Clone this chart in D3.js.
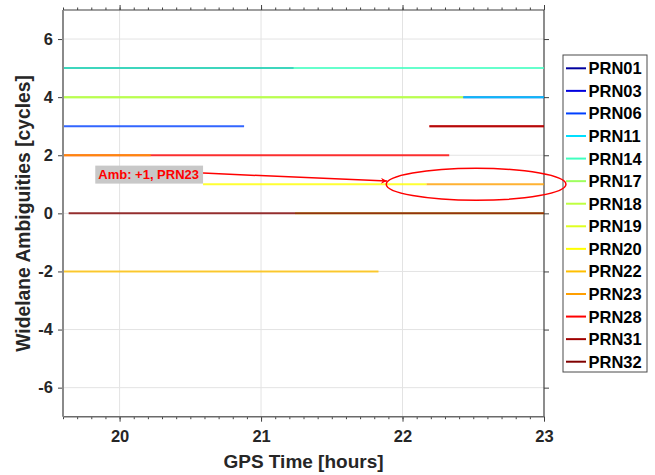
<!DOCTYPE html>
<html><head><meta charset="utf-8">
<script src="https://cdn.jsdelivr.net/npm/d3@7"></script>
<style>
html,body{margin:0;padding:0;background:#fff;}
svg{display:block;font-family:"Liberation Sans",Arial,Helvetica,sans-serif;}
</style></head>
<body><svg id="chart" width="655" height="475"></svg>
<script>
// ---- data ----
const legendPrns = ["PRN01","PRN03","PRN06","PRN11","PRN14","PRN17","PRN18","PRN19","PRN20","PRN22","PRN23","PRN28","PRN31","PRN32"];
const prnColors  = ["#00009f","#0000df","#0040ff","#00dfff","#40ffbf","#9fff60","#bfff40","#dfff20","#ffff00","#ffbf00","#ff9f00","#ff0000","#9f0000","#800000"];
// segments (drawing order)
const segPrn   = ["PRN01","PRN14","PRN17","PRN18","PRN03","PRN11","PRN06","PRN28","PRN31","PRN28","PRN23","PRN20","PRN23","PRN19","PRN32","PRN22"];
const segStart = [19.6, 19.6, 19.6, 19.6, 22.43, 22.43, 19.6, 22.19, 22.19, 19.6, 19.6, 20.59, 22.17, 21.24, 19.64, 19.6];
const segEnd   = [21.23, 23, 22.43, 22.43, 23, 23, 20.88, 23, 23, 22.33, 20.22, 22.17, 23, 23, 23, 21.83];
const segValue = [5, 5, 4, 4, 4, 4, 3, 3, 3, 2, 2, 1, 1, 0, 0, -2];
const xTicks = [20, 21, 22, 23];
const yTicks = [-6, -4, -2, 0, 2, 4, 6];
const xDomain = [19.6, 23];
const yDomain = [-7, 7];
const annText = "Amb: +1, PRN23";
const annArrowFrom = [20.59, 1.385];
const annArrowTo = [21.89, 1.11];
const ellipseCenter = [22.52, 1.0];
const ellipseRadius = [0.635, 0.55];

// ---- layout ----
const svg = d3.select("#chart");
const L = 63, R = 544, T = 10, B = 416.7;
const x = d3.scaleLinear().domain(xDomain).range([L, R]);
const y = d3.scaleLinear().domain(yDomain).range([B, T]);
const colorOf = d3.scaleOrdinal().domain(legendPrns).range(prnColors);

// grid
const g = svg.append("g");
g.selectAll(".gx").data(xTicks.filter(d => d < 23)).enter().append("line")
  .attr("x1", d => x(d)).attr("x2", d => x(d)).attr("y1", T).attr("y2", B)
  .attr("stroke", "#e3e3e3").attr("stroke-width", 1);
g.selectAll(".gy").data(yTicks).enter().append("line")
  .attr("y1", d => y(d)).attr("y2", d => y(d)).attr("x1", L).attr("x2", R)
  .attr("stroke", "#e3e3e3").attr("stroke-width", 1);

// axes
const minor = d3.range(196, 231).map(d => d / 10);
const fmt = d => String(d);
const axB = d3.axisBottom(x).tickValues(minor).tickSize(2.5).tickFormat("");
const axT = d3.axisTop(x).tickValues(minor).tickSize(2.5).tickFormat("");
const axBM = d3.axisBottom(x).tickValues(xTicks).tickSize(5).tickPadding(9).tickFormat(fmt);
const axTM = d3.axisTop(x).tickValues(xTicks).tickSize(5).tickFormat("");
const axL = d3.axisLeft(y).tickValues(yTicks).tickSize(5).tickPadding(5).tickFormat(fmt);
const axR = d3.axisRight(y).tickValues(yTicks).tickSize(5).tickFormat("");

function styleAx(sel, col) {
  sel.select(".domain").remove();
  sel.selectAll(".tick line").attr("stroke", col).attr("stroke-width", 1);
  sel.selectAll(".tick text").attr("fill", "#262626").attr("font-size", "16.5px").attr("font-weight", "bold")
     .attr("font-family", "Liberation Sans, Arial, sans-serif");
}
styleAx(svg.append("g").attr("transform", `translate(0,${B})`).call(axB), "#404040");
styleAx(svg.append("g").attr("transform", `translate(0,${T})`).call(axT), "#404040");
styleAx(svg.append("g").attr("transform", `translate(0,${B})`).call(axBM), "#404040");
styleAx(svg.append("g").attr("transform", `translate(0,${T})`).call(axTM), "#404040");
styleAx(svg.append("g").attr("transform", `translate(${L},0)`).call(axL), "#404040");
styleAx(svg.append("g").attr("transform", `translate(${R},0)`).call(axR), "#404040");

// box
svg.append("line").attr("x1", L).attr("x2", R).attr("y1", T).attr("y2", T).attr("stroke", "#404040").attr("stroke-width", 1.2);
svg.append("line").attr("x1", R).attr("x2", R).attr("y1", T).attr("y2", B).attr("stroke", "#404040").attr("stroke-width", 1.2);
svg.append("line").attr("x1", L).attr("x2", R).attr("y1", B).attr("y2", B).attr("stroke", "#6a6a6a").attr("stroke-width", 1.5);

// series segments
const segs = segPrn.map((p, i) => ({prn: p, x0: segStart[i], x1: segEnd[i], v: segValue[i]}));
svg.append("g").selectAll("line").data(segs).enter().append("line")
  .attr("x1", d => x(d.x0)).attr("x2", d => x(d.x1))
  .attr("y1", d => y(d.v)).attr("y2", d => y(d.v))
  .attr("stroke", d => colorOf(d.prn)).attr("stroke-width", 2).attr("stroke-opacity", 0.8);

svg.append("line").attr("x1", L).attr("x2", L).attr("y1", T).attr("y2", B).attr("stroke", "#8a8a8a").attr("stroke-width", 2);

// axis titles
svg.append("text").attr("x", (L + R) / 2).attr("y", 468).attr("text-anchor", "middle")
  .attr("font-size", "19px").attr("font-weight", "bold").attr("fill", "#262626").text("GPS Time [hours]");
svg.append("text").attr("transform", `translate(29.5,${(T + B) / 2}) rotate(-90)`).attr("text-anchor", "middle")
  .attr("font-size", "19.3px").attr("font-weight", "bold").attr("fill", "#262626").text("Widelane Ambiguities [cycles]");

// annotation
const annG = svg.append("g");
const atx = annG.append("text").attr("x", x(annArrowFrom[0]) - 4).attr("y", y(annArrowFrom[1]) + 5.5)
  .attr("text-anchor", "end").attr("font-size", "13px").attr("font-weight", "bold").attr("fill", "#ff0000").text(annText);
const bb = atx.node().getBBox();
annG.insert("rect", "text").attr("x", bb.x - 3).attr("y", bb.y - 1).attr("width", bb.width + 7).attr("height", bb.height + 3).attr("fill", "#c8c8c8");
svg.append("defs").append("marker").attr("id", "ah").attr("viewBox", "0 0 10 10").attr("refX", 10).attr("refY", 5)
  .attr("markerWidth", 11).attr("markerHeight", 6).attr("markerUnits", "userSpaceOnUse").attr("orient", "auto")
  .append("path").attr("d", "M0,0 L10,5 L0,10 L3,5 Z").attr("fill", "#ff0000");
annG.append("line").attr("x1", x(annArrowFrom[0])).attr("y1", y(annArrowFrom[1]))
  .attr("x2", x(annArrowTo[0])).attr("y2", y(annArrowTo[1]))
  .attr("stroke", "#ff0000").attr("stroke-width", 1.5).attr("marker-end", "url(#ah)");

// legend
const lg = svg.append("g");
const lx = 563, ly = 55, lw = 84, lh = 317, step = 22.57;
lg.append("rect").attr("x", lx).attr("y", ly).attr("width", lw).attr("height", lh).attr("fill", "#fff").attr("stroke", "#4a4a4a").attr("stroke-width", 1);
const items = lg.selectAll(".it").data(legendPrns).enter().append("g").attr("transform", (d, i) => `translate(${lx},${ly + 13.3 + i * step})`);
items.append("line").attr("x1", 3).attr("x2", 23).attr("y1", 0).attr("y2", 0).attr("stroke", d => colorOf(d)).attr("stroke-width", 2);
items.append("text").attr("x", 25.5).attr("y", 6).attr("font-size", "16.5px").attr("font-weight", "bold").attr("fill", "#000").text(d => d);

// ellipse (on top)
svg.append("ellipse").attr("cx", x(ellipseCenter[0])).attr("cy", y(ellipseCenter[1]))
  .attr("rx", x(ellipseCenter[0] + ellipseRadius[0]) - x(ellipseCenter[0]))
  .attr("ry", y(ellipseCenter[1] - ellipseRadius[1]) - y(ellipseCenter[1]))
  .attr("fill", "none").attr("stroke", "#ff0000").attr("stroke-width", 1.5);
</script></body></html>
